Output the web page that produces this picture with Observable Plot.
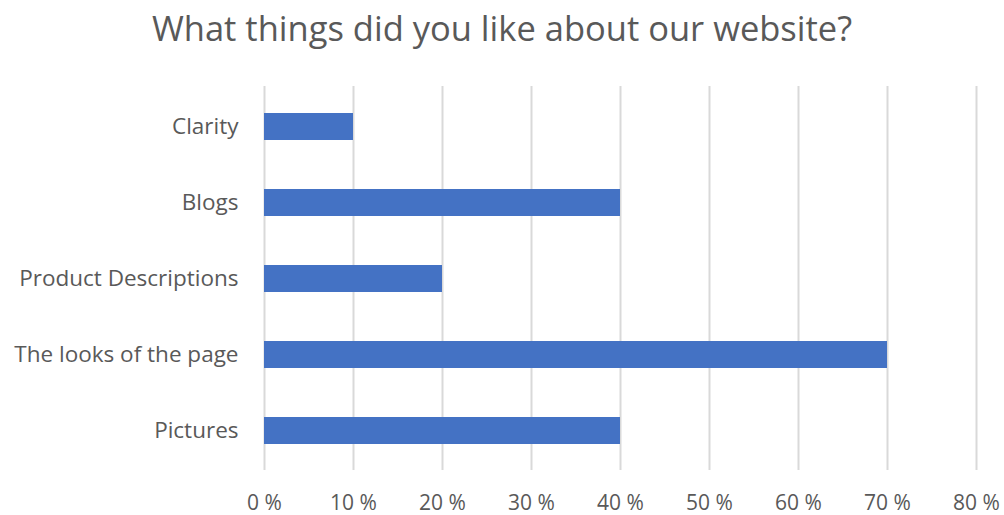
<!DOCTYPE html>
<html><head><meta charset="utf-8">
<script src="https://cdn.jsdelivr.net/npm/d3@7"></script>
<script src="https://cdn.jsdelivr.net/npm/@observablehq/plot@0.6"></script>
<style>
body{margin:0;background:#fff;font-family:"Open Sans",sans-serif;}
#wrap{position:relative;width:1004px;height:515px;}
#title{position:absolute;left:0;top:0;width:1004px;height:60px;line-height:56px;text-align:center;font-size:34.5px;color:#595959;}
</style></head>
<body>
<div id="wrap">
<div id="chart"></div>
<div id="title">What things did you like about our website?</div>
</div>
<script>
const categories = ["Clarity","Blogs","Product Descriptions","The looks of the page","Pictures"];
const values = [10,40,20,70,40];
const xTicks = [0,10,20,30,40,50,60,70,80];

const data = categories.map((c,i)=>({category:c, value:values[i]}));

const chart = Plot.plot({
  width:1004, height:515,
  marginLeft:264, marginRight:28, marginTop:86, marginBottom:45,
  style:{fontFamily:"'Open Sans', sans-serif", fontSize:"22.5px", color:"#595959", background:"#fff"},
  x:{domain:[0,80], ticks:xTicks, tickFormat:d=>d+" %", label:null},
  y:{domain:categories, paddingInner:0.65, paddingOuter:0.325, label:null},
  marks:[
    Plot.ruleX(xTicks,{stroke:"#d9d9d9", strokeWidth:2}),
    Plot.barX(data,{x:"value", y:"category", fill:"#4472c4"}),
    Plot.axisX({ticks:xTicks, tickFormat:d=>d+" %", tickSize:0, tickPadding:25, fontSize:21, fill:"#595959", label:null}),
    Plot.axisY({tickSize:0, tickPadding:26, fontSize:22.5, fill:"#595959", label:null})
  ]
});
document.getElementById("chart").appendChild(chart);
</script>
</body></html>
